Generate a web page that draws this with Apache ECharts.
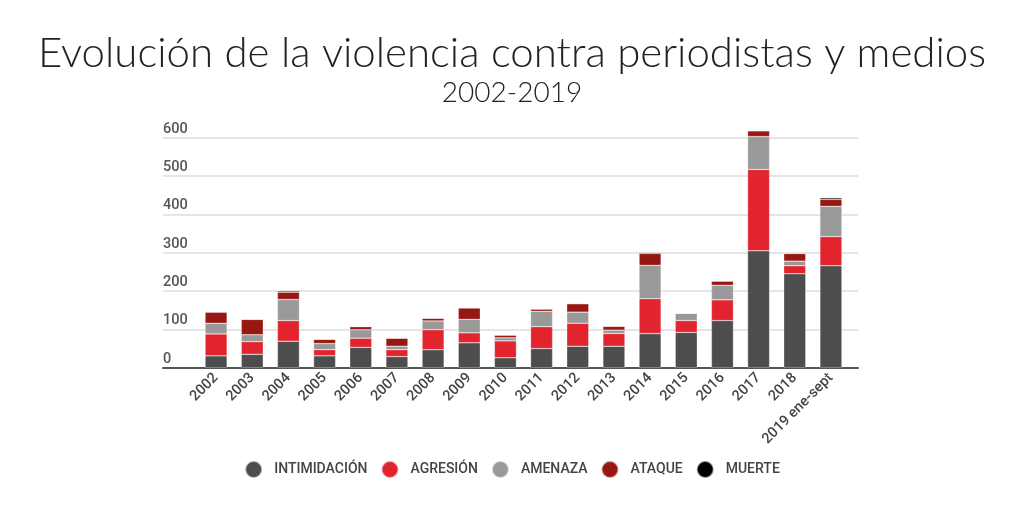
<!DOCTYPE html>
<html>
<head>
<meta charset="utf-8">
<script src="https://cdn.jsdelivr.net/npm/echarts@6/dist/echarts.min.js"></script>
<style>
  html, body { margin: 0; padding: 0; background: #fff; }
  #chart { width: 1024px; height: 512px; }
</style>
</head>
<body>
<div id="chart"></div>
<script>
const years = ['2002', '2003', '2004', '2005', '2006', '2007', '2008', '2009', '2010',
  '2011', '2012', '2013', '2014', '2015', '2016', '2017', '2018', '2019 ene-sept'];
const intimidacion = [31, 35, 69, 31, 53, 29, 47, 65, 26, 50, 56, 56, 89, 92, 123, 305, 245, 266];
const agresion = [57, 33, 54, 16, 24, 18, 52, 26, 44, 57, 60, 33, 91, 31, 54, 212, 21, 76];
const amenaza = [28, 18, 55, 16, 22, 9, 23, 35, 8, 40, 29, 9, 87, 19, 38, 86, 12, 79];
const ataque = [29, 40, 19, 11, 8, 21, 7, 30, 7, 6, 22, 10, 31, 0, 11, 15, 20, 18];
const muerte = [0, 0, 3, 0, 1, 0, 0, 0, 0, 0, 0, 0, 2, 0, 0, 0, 0, 4];
const yTicks = [0, 100, 200, 300, 400, 500, 600];

const myChart = echarts.init(document.getElementById('chart'));

// serie apilada
const makeSeries = (name, data, color) => ({
  name: name,
  type: 'bar',
  stack: 'total',
  xAxisIndex: 0,
  yAxisIndex: 0,
  barWidth: 22,
  data: data,
  itemStyle: { color: color, borderColor: 'rgba(255,255,255,0.6)', borderWidth: 0.5 }
});

// 600 -> y 137.7, 0 -> y 367.7 ; el eje de barras llega a 640 para no cortar 2017
const barMax = 640;
const pxPerUnit = 230 / 600;

const option = {
  backgroundColor: '#fff',
  animation: false,
  title: [
    {
      text: 'Evolución de la violencia contra periodistas y medios',
      left: 'center',
      top: 27,
      textStyle: { fontFamily: 'Lato', fontWeight: 300, fontSize: 42, color: '#222' }
    },
    {
      text: '2002-2019',
      left: 'center',
      top: 74,
      textStyle: { fontFamily: 'Lato', fontWeight: 300, fontSize: 28, color: '#222' }
    }
  ],
  legend: {
    bottom: 28,
    left: 'center',
    icon: 'circle',
    itemWidth: 17,
    itemHeight: 17,
    itemGap: 13,
    textStyle: { fontFamily: 'Roboto', fontWeight: 500, fontSize: 14, color: '#444', padding: [0, 0, 0, 7] },
    data: ['INTIMIDACIÓN', 'AGRESIÓN', 'AMENAZA', 'ATAQUE', 'MUERTE']
  },
  grid: [
    { left: 198, right: 175, top: 367.7 - barMax * pxPerUnit, bottom: 144.3 },
    { left: 163, right: 166, top: 137.7, bottom: 144.3 }
  ],
  xAxis: [
    {
      type: 'category',
      gridIndex: 0,
      data: years,
      axisLine: { show: false },
      axisTick: { show: false },
      axisLabel: {
        rotate: 45,
        margin: 8,
        interval: 0,
        fontFamily: 'Roboto',
        fontWeight: 500,
        fontSize: 14.5,
        color: '#444'
      }
    },
    {
      type: 'value',
      gridIndex: 1,
      min: 0,
      max: 1,
      axisLine: { show: true, lineStyle: { color: '#555', width: 2 } },
      axisTick: { show: false },
      axisLabel: { show: false },
      splitLine: { show: false }
    }
  ],
  yAxis: [
    {
      type: 'value',
      gridIndex: 0,
      min: 0,
      max: barMax,
      axisLine: { show: false },
      axisTick: { show: false },
      axisLabel: { show: false },
      splitLine: { show: false }
    },
    {
      type: 'value',
      gridIndex: 1,
      min: yTicks[0],
      max: yTicks[yTicks.length - 1],
      interval: 100,
      axisLine: { show: false },
      axisTick: { show: false },
      axisLabel: {
        inside: true,
        margin: 0,
        verticalAlign: 'bottom',
        padding: [0, 0, 1, 0],
        fontFamily: 'Roboto',
        fontWeight: 500,
        fontSize: 14.5,
        color: '#555'
      },
      splitLine: { lineStyle: { color: '#ddd', width: 1.5 } }
    }
  ],
  series: [
    makeSeries('INTIMIDACIÓN', intimidacion, '#4d4d4d'),
    makeSeries('AGRESIÓN', agresion, '#e1242e'),
    makeSeries('AMENAZA', amenaza, '#999999'),
    makeSeries('ATAQUE', ataque, '#971712'),
    makeSeries('MUERTE', muerte, '#000000')
  ]
};
myChart.setOption(option);
</script>
</body>
</html>
